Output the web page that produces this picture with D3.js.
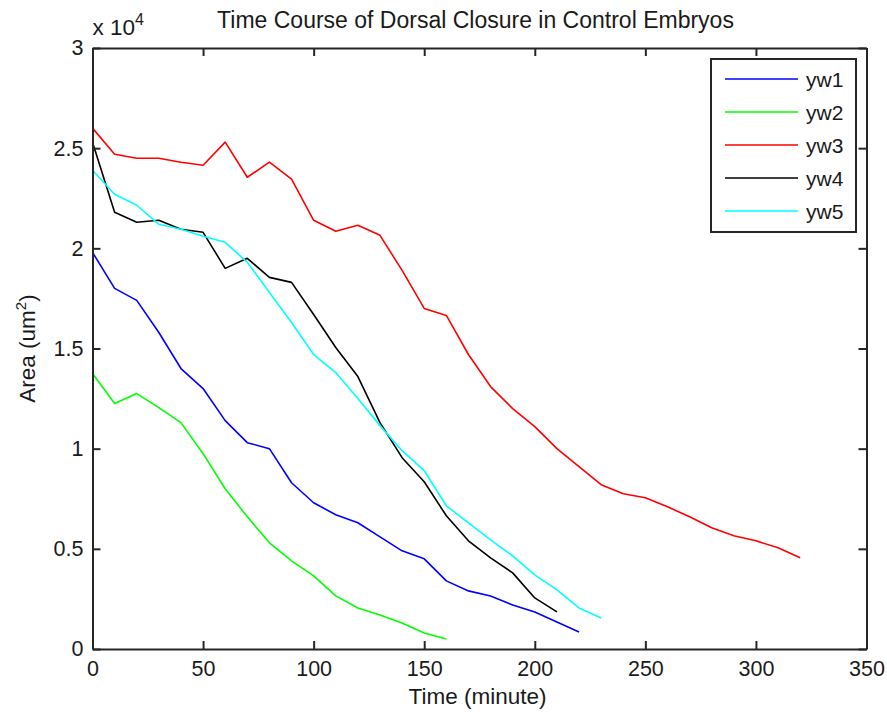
<!DOCTYPE html>
<html>
<head>
<meta charset="utf-8">
<script src="https://cdn.jsdelivr.net/npm/d3@7"></script>
<style>
  html, body { margin: 0; padding: 0; background: #fff; }
  svg { display: block; font-family: "Liberation Sans", Arial, sans-serif; }
</style>
</head>
<body>
<svg id="chart" width="887" height="719"></svg>
<script>
// Sampling times (minutes), one sample every 10 minutes
const timeStep = 10;

// Dorsal opening area (um^2) per embryo
const yw1 = [19800, 18000, 17400, 15800, 14000, 13000, 11400, 10300, 10000, 8300, 7300, 6700,
             6300, 5600, 4900, 4500, 3400, 2900, 2650, 2200, 1850, 1350, 850];
const yw2 = [13750, 12250, 12750, 12050, 11300, 9750, 8000, 6600, 5300, 4400, 3650, 2650,
             2050, 1700, 1300, 800, 500];
const yw3 = [26000, 24700, 24500, 24500, 24300, 24150, 25300, 23550, 24300, 23450, 21400, 20850,
             21150, 20650, 18900, 17000, 16650, 14700, 13100, 12000, 11100, 10000, 9100, 8200,
             7750, 7550, 7100, 6600, 6050, 5650, 5400, 5050, 4550];
const yw4 = [25300, 21800, 21300, 21400, 20950, 20800, 19000, 19500, 18550, 18300, 16700, 15050,
             13600, 11300, 9550, 8350, 6650, 5400, 4550, 3800, 2550, 1850];
const yw5 = [23900, 22700, 22150, 21200, 20950, 20600, 20300, 19300, 17800, 16300, 14700, 13800,
             12500, 11150, 9900, 8900, 7150, 6300, 5450, 4650, 3700, 2950, 2050, 1550];

const seriesNames = ["yw1", "yw2", "yw3", "yw4", "yw5"];
const seriesValues = [yw1, yw2, yw3, yw4, yw5];
const seriesColors = ["#0000ff", "#00ff00", "#ff0000", "#000000", "#00ffff"];

const xTicks = [0, 50, 100, 150, 200, 250, 300, 350];
const yTicks = [0, 5000, 10000, 15000, 20000, 25000, 30000];
const yTickLabels = ["0", "0.5", "1", "1.5", "2", "2.5", "3"];

const titleText = "Time Course of Dorsal Closure in Control Embryos";
const xLabelText = "Time (minute)";

// Plot box
const boxLeft = 92.5, boxRight = 866.5, boxTop = 48, boxBottom = 649;
const tickFont = 21.5;
const labelFont = 22.5;
const titleFont = 23;
const legendFont = 21;
const axisColor = "#262626";
const textColor = "#1a1a1a";
const tickLen = 8;

const svg = d3.select("#chart");

const x = d3.scaleLinear().domain([0, 350]).range([boxLeft, boxRight]);
const y = d3.scaleLinear().domain([0, 30000]).range([boxBottom, boxTop]);

// Data lines
const line = d3.line()
  .x((d, i) => x(i * timeStep))
  .y(d => y(d));

const plot = svg.append("g");
seriesValues.forEach((vals, k) => {
  plot.append("path")
    .datum(vals)
    .attr("fill", "none")
    .attr("stroke", seriesColors[k])
    .attr("stroke-width", 1.6)
    .attr("stroke-linejoin", "round")
    .attr("d", line);
});

// Axes with inward ticks on all four sides
function styleAxis(g) {
  g.selectAll("path.domain").attr("stroke", axisColor).attr("stroke-width", 2);
  g.selectAll(".tick line").attr("stroke", axisColor).attr("stroke-width", 2);
  g.selectAll(".tick text")
    .attr("fill", textColor)
    .style("font-size", tickFont + "px")
    .style("font-family", "Liberation Sans, Arial, sans-serif");
}

const xAxisBottom = svg.append("g")
  .attr("transform", `translate(0,${boxBottom})`)
  .call(d3.axisBottom(x).tickValues(xTicks).tickSizeInner(-tickLen).tickSizeOuter(0).tickPadding(12).tickFormat(d3.format("d")));
styleAxis(xAxisBottom);

const xAxisTop = svg.append("g")
  .attr("transform", `translate(0,${boxTop})`)
  .call(d3.axisTop(x).tickValues(xTicks).tickSizeInner(-tickLen).tickSizeOuter(0).tickFormat(""));
styleAxis(xAxisTop);

const yAxisLeft = svg.append("g")
  .attr("transform", `translate(${boxLeft},0)`)
  .call(d3.axisLeft(y).tickValues(yTicks).tickSizeInner(-tickLen).tickSizeOuter(0).tickPadding(9)
    .tickFormat((d, i) => yTickLabels[i]));
styleAxis(yAxisLeft);

const yAxisRight = svg.append("g")
  .attr("transform", `translate(${boxRight},0)`)
  .call(d3.axisRight(y).tickValues(yTicks).tickSizeInner(-tickLen).tickSizeOuter(0).tickFormat(""));
styleAxis(yAxisRight);

// Exponent marker above the y axis
const expo = svg.append("text")
  .attr("x", boxLeft)
  .attr("y", 35)
  .attr("fill", textColor)
  .style("font-size", labelFont + "px");
expo.append("tspan").text("x 10");
expo.append("tspan").attr("dy", -10).style("font-size", "16px").text("4");

// Title
svg.append("text")
  .attr("x", (boxLeft + boxRight) / 2 - 4)
  .attr("y", 28)
  .attr("text-anchor", "middle")
  .attr("fill", textColor)
  .style("font-size", titleFont + "px")
  .text(titleText);

// X label
svg.append("text")
  .attr("x", (boxLeft + boxRight) / 2 - 2)
  .attr("y", 704)
  .attr("text-anchor", "middle")
  .attr("fill", textColor)
  .style("font-size", labelFont + "px")
  .text(xLabelText);

// Y label with superscript
const yl = svg.append("text")
  .attr("transform", `translate(35,${(boxTop + boxBottom) / 2}) rotate(-90)`)
  .attr("text-anchor", "middle")
  .attr("fill", textColor)
  .style("font-size", labelFont + "px");
yl.append("tspan").text("Area (um");
yl.append("tspan").attr("dy", -9).style("font-size", "15px").text("2");
yl.append("tspan").attr("dy", 9).text(")");

// Legend
const legX = 711, legY = 59, legW = 145, legH = 173;
const legend = svg.append("g");
legend.append("rect")
  .attr("x", legX).attr("y", legY).attr("width", legW).attr("height", legH)
  .attr("fill", "#fff").attr("stroke", axisColor).attr("stroke-width", 2);

const legRow = d3.scalePoint().domain(seriesNames).range([79, 211]);
seriesNames.forEach((name, k) => {
  const ry = legRow(name);
  legend.append("line")
    .attr("x1", 725).attr("x2", 798)
    .attr("y1", ry).attr("y2", ry)
    .attr("stroke", seriesColors[k]).attr("stroke-width", 1.6);
  legend.append("text")
    .attr("x", 806).attr("y", ry)
    .attr("dy", "0.36em")
    .attr("fill", textColor)
    .style("font-size", legendFont + "px")
    .text(name);
});
</script>
</body>
</html>
